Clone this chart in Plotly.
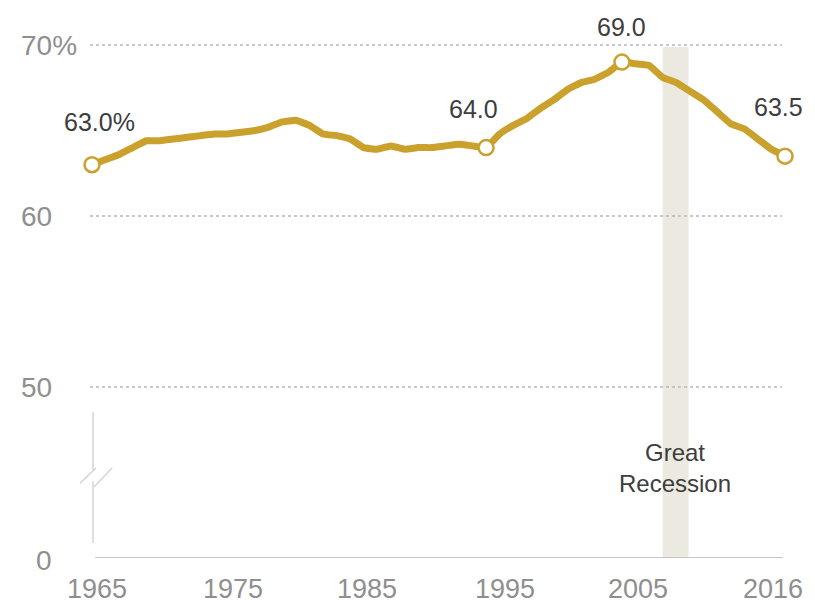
import plotly.graph_objects as go

# ---------------- data ----------------
years = list(range(1965, 2017))
rate = [63.0, 63.3, 63.6, 64.0, 64.4, 64.4, 64.5, 64.6, 64.7, 64.8,
        64.8, 64.9, 65.0, 65.2, 65.5, 65.6, 65.3, 64.8, 64.7, 64.5,
        64.0, 63.9, 64.1, 63.9, 64.0, 64.0, 64.1, 64.2, 64.1, 64.0,
        64.8, 65.3, 65.7, 66.3, 66.8, 67.4, 67.8, 68.0, 68.4, 69.0,
        68.9, 68.8, 68.1, 67.8, 67.3, 66.8, 66.1, 65.4, 65.1, 64.5,
        63.9, 63.5]

label_years = [1965, 1994, 2004, 2016]
label_texts = ["63.0%", "64.0", "69.0", "63.5"]

x_tick_vals = [1965, 1975, 1985, 1995, 2005, 2016]
x_tick_text = ["1965", "1975", "1985", "1995", "2005", "2016"]

y_tick_vals = [70, 60, 50, 40]          # 40 stands for the broken-axis zero
y_tick_text = ["70%", "60", "50", "0"]

rec_start, rec_end = 2007.0, 2008.9
rec_label = "Great<br>Recession"

# ---------------- layout calibration (pixels) ----------------
W, H = 815, 606
L, R, T, B = 80, 800, 30, 558
X_A_YR, X_A_PX = 1965, 92
X_B_YR, X_B_PX = 2016, 785
PPY = (X_B_PX - X_A_PX) / (X_B_YR - X_A_YR)
Y_TOP_V, Y_TOP_PX = 70, 45
Y_BOT_V, Y_BOT_PX = 40, 558
PPV = (Y_BOT_PX - Y_TOP_PX) / (Y_TOP_V - Y_BOT_V)


def xd(px):
    return X_A_YR + (px - X_A_PX) / PPY


def yd(py):
    return Y_BOT_V + (Y_BOT_PX - py) / PPV


def xp(px):
    return (px - L) / (R - L)


GOLD = "#c9a12c"
GRID = "#b8b8b8"
TICK = "#8f8f8f"
TEXT = "#3d3d3d"
FONT = "Liberation Sans, Arial, sans-serif"

fig = go.Figure()

fig.add_trace(go.Scatter(
    x=years, y=rate, mode="lines",
    line=dict(color=GOLD, width=7, shape="spline", smoothing=0.3),
    hoverinfo="skip", cliponaxis=False, showlegend=False))

lab_vals = [rate[years.index(y)] for y in label_years]
fig.add_trace(go.Scatter(
    x=label_years, y=lab_vals, mode="markers",
    marker=dict(size=15, color="white", line=dict(color=GOLD, width=2.5)),
    hoverinfo="skip", cliponaxis=False, showlegend=False))

shapes = []
# recession band
shapes.append(dict(type="rect", xref="x", yref="y", x0=rec_start, x1=rec_end,
                   y0=40, y1=yd(47), fillcolor="#ebe9e0", line=dict(width=0),
                   layer="below"))
# dotted gridlines
for v in [50, 60, 70]:
    shapes.append(dict(type="line", xref="x", yref="y", x0=xd(90), x1=xd(782),
                       y0=v, y1=v, line=dict(color=GRID, width=1.5, dash="dot"),
                       layer="above"))
# baseline
shapes.append(dict(type="line", xref="x", yref="y", x0=xd(95), x1=xd(783),
                   y0=40, y1=40, line=dict(color="#b5b5b5", width=1.5)))
# axis break
BRK = "#d4d4d4"
for (a, b) in [((93, 412), (93, 470)), ((93, 481), (93, 543)),
               ((77, 486), (96, 468)), ((94, 487), (112, 468))]:
    shapes.append(dict(type="line", xref="x", yref="y",
                       x0=xd(a[0]), y0=yd(a[1]), x1=xd(b[0]), y1=yd(b[1]),
                       line=dict(color=BRK, width=1.5)))

ann = []
# data labels
offsets = {1965: (7, 43), 1994: (-13, 39), 2004: (0, 35), 2016: (-7, 49)}
for yr, txt, v in zip(label_years, label_texts, lab_vals):
    dx, dy = offsets[yr]
    ann.append(dict(x=yr, y=v, xref="x", yref="y", text=txt, showarrow=False,
                    xshift=dx, yshift=dy, font=dict(size=25, color=TEXT, family=FONT)))
# x tick labels
xshifts = {1965: 5, 1975: 5, 1985: 3, 1995: 5, 2005: 2, 2016: -12}
for v, t in zip(x_tick_vals, x_tick_text):
    ann.append(dict(x=v, y=40, xref="x", yref="y", text=t, showarrow=False,
                    xshift=xshifts[v], yshift=-31, yanchor="middle",
                    font=dict(size=27, color=TICK, family=FONT)))
# y tick labels
for v, t in zip(y_tick_vals, y_tick_text):
    if t == "0":
        ann.append(dict(x=xp(54), y=v, xref="paper", yref="y", text=t,
                        showarrow=False, xanchor="right", yanchor="middle", yshift=-2,
                        font=dict(size=28, color=TICK, family=FONT)))
    else:
        ann.append(dict(x=xp(19), y=v, xref="paper", yref="y", text=t,
                        showarrow=False, xanchor="left", yanchor="middle",
                        font=dict(size=28, color=TICK, family=FONT)))
# recession label
ann.append(dict(x=(rec_start + rec_end) / 2, y=yd(468), xref="x", yref="y",
                text=rec_label, showarrow=False, xshift=-1,
                font=dict(size=24, color=TEXT, family=FONT)))

fig.update_layout(
    width=W, height=H,
    margin=dict(l=L, r=W - R, t=T, b=H - B, pad=0),
    paper_bgcolor="white", plot_bgcolor="white",
    xaxis=dict(range=[xd(L), xd(R)], showgrid=False, zeroline=False,
               showticklabels=False, ticks="", showline=False, fixedrange=True),
    yaxis=dict(range=[yd(B), yd(T)], showgrid=False, zeroline=False,
               showticklabels=False, ticks="", showline=False, fixedrange=True),
    shapes=shapes, annotations=ann, showlegend=False,
    font=dict(family=FONT),
)

fig.write_html("out.html", config={"displayModeBar": False})
